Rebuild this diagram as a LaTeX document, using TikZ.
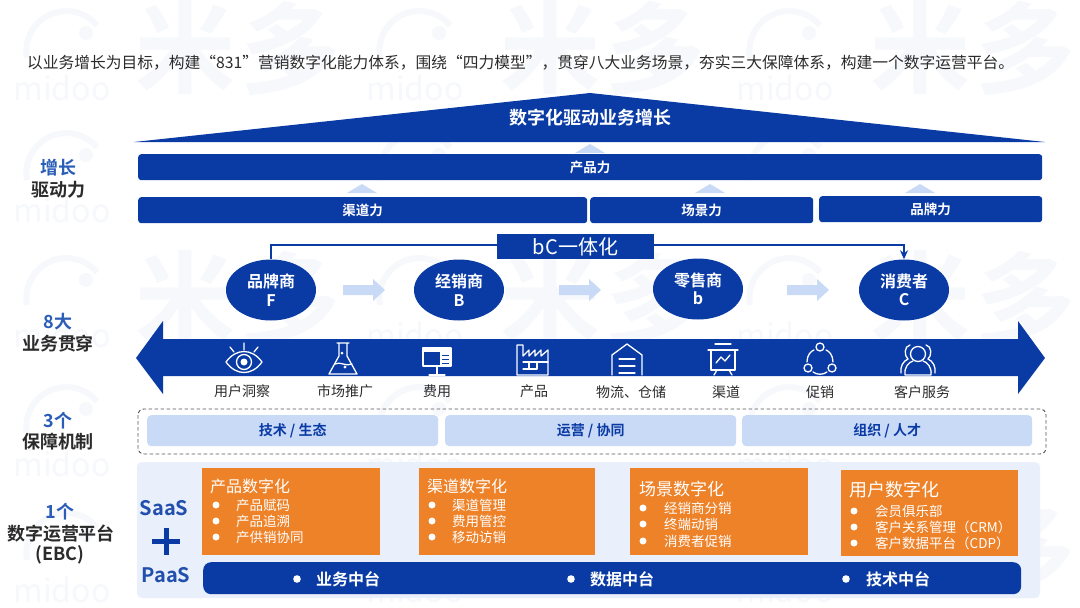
\documentclass[tikz,border=0pt]{standalone}
\usepackage{fontspec}
\setmainfont{Noto Sans CJK SC}[BoldFont={Noto Sans CJK SC Bold}]
\usetikzlibrary{arrows.meta,shapes.geometric}
\definecolor{navy}{HTML}{0A3BA5}
\definecolor{pale}{HTML}{C9DAF7}
\definecolor{paler}{HTML}{E9EFFB}
\definecolor{wm}{HTML}{F6F8FC}
\definecolor{lab}{HTML}{2A5DB8}
\definecolor{ink}{HTML}{2B2B2B}
\definecolor{orange}{HTML}{EE8229}
\tikzset{
 bar/.style={fill=navy,rounded corners=3pt,text=white,font=\bfseries\fontsize{13.5}{15}\selectfont,inner sep=0pt,anchor=north west},
 party/.style={ellipse,fill=navy,text=white,minimum width=90pt,minimum height=61pt,inner sep=0pt,align=center,font=\bfseries\fontsize{16}{18.5}\selectfont},
 blab/.style={text=lab,font=\bfseries\fontsize{18}{20}\selectfont,inner sep=0pt},
 dlab/.style={text=ink,font=\bfseries\fontsize{18}{20}\selectfont,inner sep=0pt},
 guard/.style={fill=pale,rounded corners=4pt,text=navy,font=\bfseries\fontsize{14}{16}\selectfont,inner sep=0pt,anchor=north west,minimum height=31pt},
 orbox/.style={fill=orange,anchor=north west,inner sep=0pt,minimum height=87pt},
 ortitle/.style={text=white,anchor=west,inner sep=0pt,font=\fontsize{16}{18}\selectfont},
 oritem/.style={text=white,anchor=west,inner sep=0pt,font=\fontsize{13.5}{15}\selectfont},
 capt/.style={text=ink,inner sep=0pt,font=\fontsize{14}{16}\selectfont},
 midb/.style={text=white,anchor=west,inner sep=0pt,font=\bfseries\fontsize{16}{18}\selectfont},
 ic/.style={draw=white,line width=1.3pt,line join=round,line cap=round},
 wmbig/.style={text=wm,inner sep=0pt,font=\bfseries\fontsize{100}{100}\selectfont},
 wmsmall/.style={text=wm,inner sep=0pt,font=\fontsize{32}{32}\selectfont},
 paas/.style={text=navy!90!white,inner sep=0pt,font=\bfseries\fontsize{20}{22}\selectfont},
}
\begin{document}
\begin{tikzpicture}[x=1pt,y=-1pt]
\useasboundingbox (0,0) rectangle (1080,608);
\fill[white] (0,0) rectangle (1080,608);
% watermark
\foreach \cx [count=\c] in {62,415,785}{
 \foreach \ry [count=\r] in {88,210,335,464,590}{
  \node[wmsmall] (wm-m-\c-\r) at (\cx,\ry) {midoo};
  \draw[wm,line width=6pt] (\cx-35,\ry-30) arc[start angle=190,end angle=40,radius=40pt];
  \fill[wm] (\cx+24,\ry-55) circle (7pt);
 }
}
\foreach \cx [count=\c] in {185,550,920}{
 \foreach \ry [count=\r] in {48,298,548}{
  \node[wmbig] (wm-a-\c-\r) at (\cx,\ry) {米};
  \node[wmbig] (wm-b-\c-\r) at (\cx+105,\ry) {多};
 }
}
% title
\node[anchor=west,inner sep=0pt,text=ink,font=\fontsize{15.75}{18}\selectfont] (title) at (27,63) {以业务增长为目标，构建“831”营销数字化能力体系，围绕“四力模型”，贯穿八大业务场景，夯实三大保障体系，构建一个数字运营平台。};
% roof
\fill[navy] (134,142) -- (590,93) -- (1045,142) -- cycle;
\node[text=white,inner sep=0pt,font=\bfseries\fontsize{18}{20}\selectfont] (roof) at (590,118) {数字化驱动业务增长};
% small up arrows
\foreach \ax/\ay in {590/144,362/184,710/184,920/184}{
 \fill[pale] (\ax-15,\ay+9) -- (\ax,\ay) -- (\ax+15,\ay+9) -- cycle;
}
% force bars
\node[bar,minimum width=904pt,minimum height=26pt] (prod) at (138,154) {产品力};
\node[bar,minimum width=449pt,minimum height=26pt] (chan) at (138,197) {渠道力};
\node[bar,minimum width=223pt,minimum height=26pt] (scene) at (590,197) {场景力};
\node[bar,minimum width=223pt,minimum height=26pt] (brand) at (819,196) {品牌力};
% parties
\node[party] (F) at (271,290) {品牌商\\F};
\node[party] (B) at (459,290) {经销商\\B};
\node[party] (b) at (698,289) {零售商\\b};
\node[party] (C) at (904,290) {消费者\\C};
\node[fill=navy,text=white,inner sep=0pt,minimum width=157pt,minimum height=25pt,font=\fontsize{20}{22}\selectfont] (bc) at (575.5,246.5) {bC一体化};
\draw[navy,line width=1.6pt] (bc.west |- 0,245) -- (F.north |- 0,245) -- (F.north);
\draw[navy,line width=1.6pt,-{Stealth[length=9pt,width=8pt]}] (bc.east |- 0,245) -- (C.north |- 0,245) -- (C.north);
% pale flow arrows
\foreach \ax in {343,559,787}{
 \fill[pale] (\ax,285) -- (\ax+30,285) -- (\ax+30,279) -- (\ax+42,290) -- (\ax+30,301) -- (\ax+30,295) -- (\ax,295) -- cycle;
}
% big double arrow
\fill[navy] (136,358) -- (163,321) -- (163,339) -- (1018,339) -- (1018,321) -- (1045,358) -- (1018,394) -- (1018,376) -- (163,376) -- (163,394) -- cycle;
% icons
\begin{scope}[shift={(244,362)}]
 \draw[ic] (-18,0) .. controls (-8,-14) and (8,-14) .. (18,0) .. controls (8,14) and (-8,14) .. (-18,0) -- cycle;
 \draw[ic] (0,0) circle (7.5pt);
 \fill[white] (0,0) circle (3.5pt);
 \draw[ic] (0,-12) -- (0,-19) (-10,-10) -- (-14,-15) (10,-10) -- (14,-15);
\end{scope}
\begin{scope}[shift={(343,361)}]
 \draw[ic] (-6,-18) -- (6,-18) (-4,-18) -- (-4,-5) -- (-14,13) -- (14,13) -- (4,-5) -- (4,-18);
 \draw[ic] (-8,3) .. controls (-3,0) and (3,6) .. (9,3);
 \fill[white] (-1,-8) circle (1.5pt) (2,6) circle (1.7pt);
\end{scope}
\begin{scope}[shift={(437,360)}]
 \draw[ic] (-14,-12) rectangle (14,6);
 \fill[white] (-14,-12) rectangle (14,-8);
 \fill[white] (3,-12) rectangle (14,6);
 \draw[navy,line width=1pt] (5,-5) -- (12,-5) (5,-1) -- (12,-1) (5,3) -- (12,3);
 \draw[ic] (0,6) -- (0,15) (-8,15) -- (8,15);
\end{scope}
\begin{scope}[shift={(533,360)}]
 \draw[ic] (-16,15) -- (-16,-15) -- (-10,-15) -- (-10,-4) -- (-4,-10) -- (-4,-4) -- (2,-10) -- (2,-4) -- (8,-10) -- (8,-4) -- (15,-10) -- (15,15) -- cycle;
 \draw[ic] (-10,2) -- (15,2) (-4,2) -- (-4,9) -- (4,9) -- (4,2) (-10,9) -- (-4,9);
\end{scope}
\begin{scope}[shift={(627,361)}]
 \draw[ic] (-15,14) -- (-15,-6) -- (0,-17) -- (15,-6) -- (15,14);
 \draw[ic] (-8,-2) -- (8,-2) (-8,5) -- (8,5) (-8,12) -- (8,12);
\end{scope}
\begin{scope}[shift={(723,360)}]
 \draw[ic] (-8,-16) -- (8,-16) (-15,-10) -- (15,-10) (-12,-10) -- (-12,10) -- (12,10) -- (12,-10);
 \draw[ic] (-7,3) -- (-2,-3) -- (2,1) -- (7,-5);
 \draw[ic] (-6,10) -- (-9,15) (6,10) -- (9,15);
\end{scope}
\begin{scope}[shift={(820,360)}]
 \draw[ic] (0,-13) circle (4pt) (-12,8) circle (4pt) (12,8) circle (4pt);
 \draw[ic] (-13,2) .. controls (-13,-5) and (-9,-9) .. (-6,-10);
 \draw[ic] (13,2) .. controls (13,-5) and (9,-9) .. (6,-10);
 \draw[ic] (-7,12) .. controls (-3,15) and (3,15) .. (7,12);
\end{scope}
\begin{scope}[shift={(918,360)}]
 \draw[ic] (0,-6) circle (7.5pt);
 \draw[ic] (-13,15) .. controls (-14,7) and (-9,2) .. (-5,1) (13,15) .. controls (14,7) and (9,2) .. (5,1) (-13,15) -- (13,15);
 \draw[ic] (-8,-15) .. controls (-14,-14) and (-14,-4) .. (-10,-1) .. controls (-15,1) and (-18,7) .. (-17,13);
 \draw[ic] (8,-15) .. controls (14,-14) and (14,-4) .. (10,-1) .. controls (15,1) and (18,7) .. (17,13);
\end{scope}
% captions
\node[capt] (c1) at (242,391) {用户洞察};
\node[capt] (c2) at (345,391) {市场推广};
\node[capt] (c3) at (437,391) {费用};
\node[capt] (c4) at (534,391) {产品};
\node[capt] (c5) at (631,392) {物流、仓储};
\node[capt] (c6) at (726,392) {渠道};
\node[capt] (c7) at (820,392) {促销};
\node[capt] (c8) at (922,392) {客户服务};
% guarantee
\draw[ink!80,line width=0.9pt,dash pattern=on 3.5pt off 2.5pt,rounded corners=6pt] (138,409) rectangle (1046,454);
\node[guard,minimum width=291pt] (g1) at (147,415) {技术 / 生态};
\node[guard,minimum width=291pt] (g2) at (445,415) {运营 / 协同};
\node[guard,minimum width=290pt] (g3) at (742,415) {组织 / 人才};
% platform
\fill[paler,rounded corners=5pt] (137,462) rectangle (1040,598);
\node[orbox,minimum width=178pt] (o1) at (202,468) {};
\node[orbox,minimum width=176pt] (o2) at (419,468) {};
\node[orbox,minimum width=178pt] (o3) at (630,468) {};
\node[orbox,minimum width=177pt,minimum height=86pt] (o4) at (841,470) {};
\node[ortitle] (t1) at (210,486) {产品数字化};
\node[ortitle] (t2) at (427,486) {渠道数字化};
\node[ortitle,font=\fontsize{17}{19}\selectfont] (t3) at (639,489) {场景数字化};
\node[ortitle,font=\fontsize{18}{20}\selectfont] (t4) at (849,490) {用户数字化};
\foreach \bx/\by/\tx/\txt [count=\n] in {
 216/505/236/产品赋码,216/521/236/产品追溯,216/537/236/产供销协同,
 432/505/452/渠道管理,432/521/452/费用管控,432/537/452/移动访销,
 643/508/664/经销商分销,643/524/664/终端动销,643/541/664/消费者促销,
 854/511/875/会员俱乐部,854/527/875/客户关系管理（CRM）,854/543/875/客户数据平台（CDP）}{
 \fill[white] (\bx,\by) circle (3.5pt);
 \node[oritem] (it-\n) at (\tx,\by) {\txt};
}
\node[bar,minimum width=818pt,minimum height=32pt,rounded corners=8pt] (mid) at (203,562) {};
\foreach \bx/\tx/\txt [count=\n] in {297/316/业务中台,571/590/数据中台,846/866/技术中台}{
 \fill[white] (\bx,579) circle (3.8pt);
 \node[midb] (mt-\n) at (\tx,579) {\txt};
}
\node[paas] (saas) at (164,508) {SaaS};
\node[paas] (paas) at (166,575) {PaaS};
\fill[navy] (163.5,528) rectangle (168.5,555);
\fill[navy] (152,539) rectangle (180,544);
% left labels
\node[blab] (l1) at (58,168) {增长};
\node[dlab] (l2) at (58,190) {驱动力};
\node[blab] (l3) at (58,322) {8大};
\node[dlab] (l4) at (58,344) {业务贯穿};
\node[blab] (l5) at (58,421) {3个};
\node[dlab] (l6) at (58,442) {保障机制};
\node[blab] (l7) at (60,512) {1个};
\node[dlab] (l8) at (61,534) {数字运营平台};
\node[dlab] (l9) at (60,555) {(EBC)};
\end{tikzpicture}
\end{document}
